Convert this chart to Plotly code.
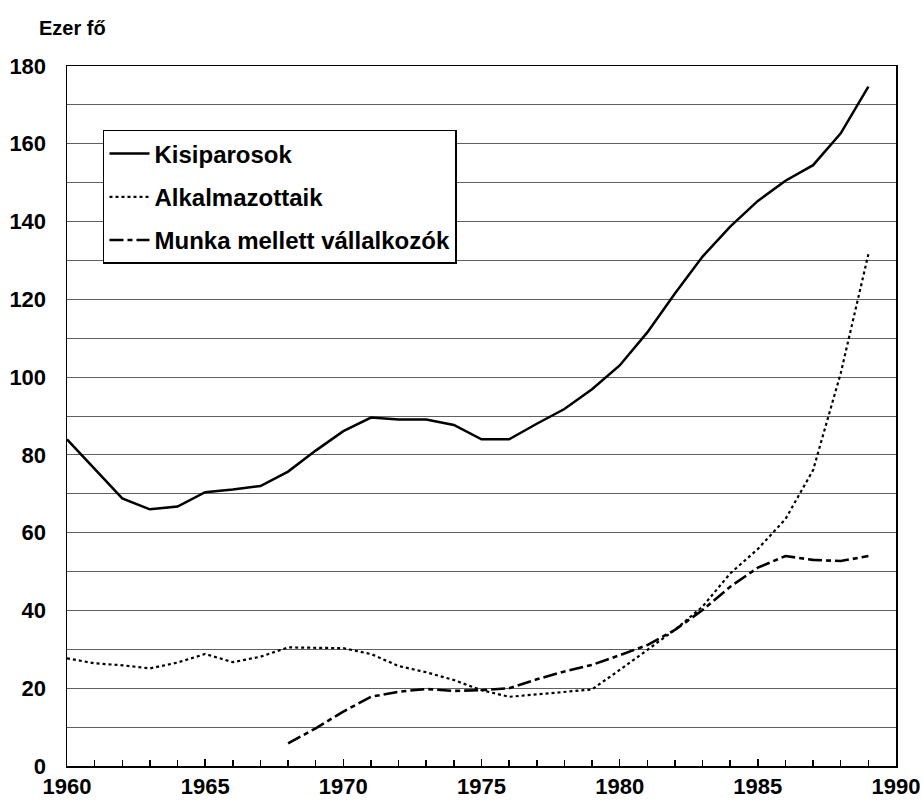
import plotly.graph_objects as go

years = list(range(1960, 1990))
kisiparosok = [84.0, 76.5, 68.8, 66.0, 66.7, 70.4, 71.1, 72.0, 75.7, 81.1,
               86.1, 89.6, 89.1, 89.1, 87.7, 84.0, 84.0, 88.0, 91.8, 96.9,
               103.0, 111.5, 121.5, 131.0, 138.7, 145.3, 150.5, 154.5, 162.7, 174.7]
alkalmazottaik = [27.7, 26.4, 25.9, 25.1, 26.6, 28.8, 26.7, 28.1, 30.5, 30.4,
                  30.3, 28.8, 25.7, 24.1, 22.1, 19.5, 17.8, 18.4, 19.1, 19.7,
                  24.7, 29.8, 35.0, 41.0, 49.5, 55.8, 63.5, 76.1, 101.0, 131.6]
munka_years = list(range(1968, 1990))
munka_mellett = [5.8, 9.7, 14.0, 17.8, 19.1, 19.8, 19.3, 19.5, 20.0, 22.3,
                 24.3, 26.0, 28.5, 31.1, 35.0, 40.1, 46.1, 51.0, 54.0, 53.0, 52.7, 54.0]

font_family = "Liberation Sans, Arial, sans-serif"

fig = go.Figure()
fig.add_trace(go.Scatter(x=years, y=kisiparosok, mode="lines", name="Kisiparosok",
                         legendgroup="a",
                         line=dict(color="black", width=2.5)))
fig.add_trace(go.Scatter(x=years, y=alkalmazottaik, mode="lines", name="Alkalmazottaik",
                         legendgroup="b",
                         line=dict(color="black", width=2.2, dash="dot")))
fig.add_trace(go.Scatter(x=munka_years, y=munka_mellett, mode="lines",
                         name="Munka mellett vállalkozók", legendgroup="c",
                         line=dict(color="black", width=2.6, dash="14px,4px,5px,4px")))

fig.update_layout(
    width=922, height=806,
    margin=dict(l=67, r=26, t=66, b=40, autoexpand=False),
    paper_bgcolor="white", plot_bgcolor="white",
    font=dict(family=font_family, color="black", size=19),
    showlegend=True,
    legend=dict(x=0.0434, y=0.9086, xanchor="left", yanchor="top",
                bgcolor="white", bordercolor="black", borderwidth=1.5,
                font=dict(size=24, family=font_family, weight="bold"),
                itemwidth=40, traceorder="grouped", tracegroupgap=9),
    xaxis=dict(range=[1960, 1990], tickvals=[1960, 1965, 1970, 1975, 1980, 1985, 1990],
               automargin=False,
               showgrid=False, zeroline=False, showline=True, linecolor="black",
               linewidth=1.5, mirror=True, ticks="inside", ticklen=7,
               tickcolor="black", tickwidth=1.5,
               minor=dict(dtick=1, ticks="inside", ticklen=6, tickcolor="black"),
               tickfont=dict(size=22, weight="bold")),
    yaxis=dict(range=[0, 180], dtick=20, showgrid=True, gridcolor="#606060",
               automargin=False,
               gridwidth=1, zeroline=False, showline=True, linecolor="black",
               linewidth=1.5, mirror=True, ticks="", ticklabelstandoff=15,
               minor=dict(dtick=10, showgrid=True, gridcolor="#606060", gridwidth=1),
               tickfont=dict(size=22, weight="bold")),
    annotations=[dict(text="Ezer fő", xref="paper", yref="paper", x=-0.036, y=1.054,
                      xanchor="left", yanchor="middle", showarrow=False,
                      font=dict(size=20, weight="bold"))],
)

fig.write_html("out.html",
               config={"displayModeBar": False, "staticPlot": True},
               post_script="document.body.style.margin='0';document.body.style.overflow='hidden';")
